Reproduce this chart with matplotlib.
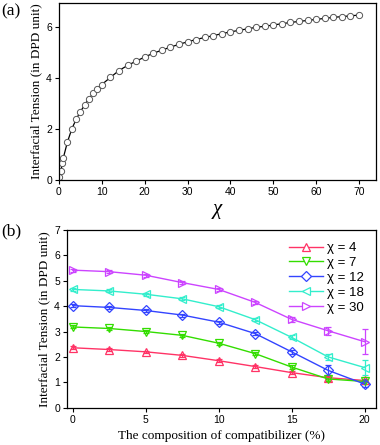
import numpy as np
import matplotlib
matplotlib.use("Agg")
from matplotlib import pyplot as plt
from matplotlib.lines import Line2D

# panel (a): interfacial tension vs chi
chi = [0, 0.5, 0.75, 1, 2, 3, 4, 5, 6, 7, 8, 9, 10, 12, 14, 16, 18, 20, 22, 24, 26,
       28, 30, 32, 34, 36, 38, 40, 42, 44, 46, 48, 50, 52, 54, 56, 58, 60, 62, 64,
       66, 68, 70]
tension = [0.1, 0.35, 0.65, 0.85, 1.5, 2.0, 2.38, 2.68, 2.95, 3.2, 3.4, 3.57, 3.75,
           4.03, 4.3, 4.5, 4.67, 4.83, 4.98, 5.1, 5.22, 5.33, 5.43, 5.52, 5.6, 5.67,
           5.75, 5.82, 5.88, 5.94, 6.0, 6.04, 6.09, 6.14, 6.19, 6.23, 6.27, 6.31,
           6.35, 6.39, 6.42, 6.45, 6.48]

# panel (b): interfacial tension vs compatibilizer
comp = [0, 2.5, 5, 7.5, 10, 12.5, 15, 17.5, 20]
labels = ['\u03c7 = 4', '\u03c7 = 7', '\u03c7 = 12', '\u03c7 = 18', '\u03c7 = 30']
t4 = [2.36, 2.29, 2.2, 2.06, 1.85, 1.62, 1.38, 1.18, 1.07]
t7 = [3.18, 3.12, 3.0, 2.85, 2.54, 2.13, 1.6, 1.13, 1.03]
t12 = [4.02, 3.95, 3.83, 3.65, 3.37, 2.92, 2.2, 1.47, 0.93]
t18 = [4.66, 4.6, 4.47, 4.29, 3.98, 3.47, 2.77, 2.0, 1.58]
t30 = [5.42, 5.36, 5.22, 4.93, 4.66, 4.15, 3.48, 3.03, 2.6]
e4 = [0.05, 0.05, 0.05, 0.05, 0.06, 0.06, 0.06, 0.06, 0.06]
e7 = [0.06, 0.06, 0.06, 0.06, 0.06, 0.06, 0.07, 0.08, 0.08]
e12 = [0.06, 0.06, 0.06, 0.06, 0.06, 0.07, 0.08, 0.2, 0.1]
e18 = [0.06, 0.06, 0.06, 0.06, 0.06, 0.07, 0.08, 0.13, 0.3]
e30 = [0.06, 0.06, 0.06, 0.06, 0.07, 0.07, 0.1, 0.16, 0.5]

series = [t4, t7, t12, t18, t30]
errs = [e4, e7, e12, e18, e30]
colors = ['#ff3366', '#33dd00', '#3344ff', '#33eecc', '#cc44ff']
markers = ['^', 'v', 'D', '<', '>']
msizes = [6, 6, 5, 6, 6]

serif = 'Liberation Serif'
sans = 'Liberation Sans'

fig = plt.figure(figsize=(3.8, 4.45), dpi=100)

ax1 = fig.add_axes([0.155, 0.5955, 0.835, 0.3975])
ax1.plot(chi, tension, '-', color='black', lw=0.9, marker='o', ms=4.5,
         mfc='white', mec='#555555', mew=0.7)
ax1.set_xlim(0, 74)
ax1.set_ylim(0, 6.95)
ax1.set_xticks(range(0, 71, 10))
ax1.set_yticks([0, 2, 4, 6])
ax1.set_ylabel('Interfacial Tension (in DPD unit)', fontfamily=serif, fontsize=9.5, labelpad=3)
ax1.set_xlabel('\u03c7', fontfamily=serif, fontstyle='italic', fontsize=15, labelpad=2)
fig.text(0.003, 0.965, '(a)', fontfamily=serif, fontsize=12.5)

ax2 = fig.add_axes([0.176, 0.084, 0.814, 0.399])
handles = []
for y, e, c, m, s, lab in zip(series, errs, colors, markers, msizes, labels):
    ax2.errorbar(comp, y, yerr=e, color=c, lw=1.0, marker=m, ms=s, mfc='none',
                 mec=c, mew=0.9, ecolor=c, elinewidth=0.9, capsize=2.5,
                 capthick=0.9)
    handles.append(Line2D([], [], color=c, lw=1.0, marker=m, ms=s, mfc='white',
                          mec=c, mew=0.9, label=lab))
ax2.set_xlim(-0.4, 20.8)
ax2.set_ylim(0, 7)
ax2.set_xticks([0, 5, 10, 15, 20])
ax2.set_yticks(range(0, 8))
ax2.set_ylabel('Interfacial Tension (in DPD unit)', fontfamily=serif, fontsize=9.5, labelpad=3)
ax2.set_xlabel('The composition of compatibilizer (%)', fontfamily=serif, fontsize=9.5, labelpad=4)
fig.text(0.003, 0.47, '(b)', fontfamily=serif, fontsize=12.5)
leg = ax2.legend(handles=handles, loc='upper right', frameon=False,
                 prop={'family': sans, 'size': 9.5},
                 handlelength=2.6, handletextpad=0.3, labelspacing=0.2,
                 borderaxespad=0.5)

for ax in (ax1, ax2):
    for sp in ax.spines.values():
        sp.set_linewidth(0.9)
    ax.tick_params(direction='out', length=3, width=0.8, labelsize=7.5, pad=2)
    for t in ax.get_xticklabels() + ax.get_yticklabels():
        t.set_fontfamily(sans)

fig.savefig('out.png', dpi=100)
